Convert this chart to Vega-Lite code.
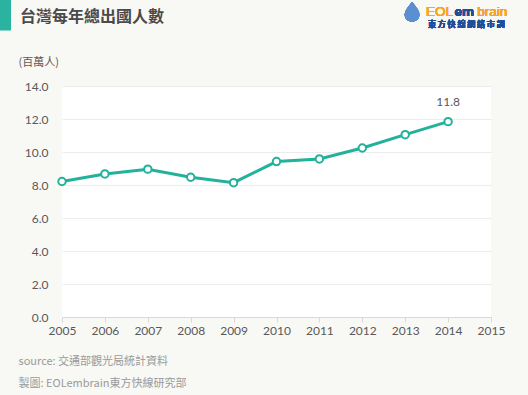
{
  "$schema": "https://vega.github.io/schema/vega-lite/v6.json",
  "width": 429,
  "height": 231,
  "autosize": "none",
  "padding": {"left": 62, "top": 86, "right": 37, "bottom": 78},
  "background": "#f8f8f4",
  "config": {
    "view": {"fill": "#ffffff", "stroke": null},
    "font": "Lato",
    "axis": {"labelFont": "Lato", "titleFont": "Noto Sans CJK TC"}
  },
  "title": {
    "text": "台灣每年總出國人數",
    "anchor": "start",
    "frame": "group",
    "font": "Noto Sans CJK TC",
    "fontSize": 16,
    "fontWeight": "bold",
    "color": "#4a4a4a",
    "dx": -42,
    "offset": 0,
    "dy": 26
  },
  "data": {
    "values": [
      {"year": 2005, "value": 8.21},
      {"year": 2006, "value": 8.67},
      {"year": 2007, "value": 8.96},
      {"year": 2008, "value": 8.47},
      {"year": 2009, "value": 8.14},
      {"year": 2010, "value": 9.42},
      {"year": 2011, "value": 9.58},
      {"year": 2012, "value": 10.24},
      {"year": 2013, "value": 11.05},
      {"year": 2014, "value": 11.84}
    ]
  },
  "encoding": {
    "x": {
      "field": "year",
      "type": "quantitative",
      "scale": {"domain": [2005, 2015], "nice": false, "zero": false},
      "axis": {
        "values": [2005, 2006, 2007, 2008, 2009, 2010, 2011, 2012, 2013, 2014, 2015],
        "format": "d",
        "grid": false,
        "domainColor": "#d9d9d9",
        "tickColor": "#d9d9d9",
        "tickSize": 5,
        "labelColor": "#595959",
        "labelFontSize": 12,
        "labelPadding": 3,
        "labelFlush": false,
        "title": ["source: 交通部觀光局統計資料", "製圖: EOLembrain東方快線研究部"],
        "titleAnchor": "start",
        "titleAlign": "left",
        "titleX": -44,
        "titleY": 38,
        "titleFontSize": 11,
        "titleFontWeight": "normal",
        "titleColor": "#9a9a9a",
        "titleLineHeight": 22,
        "titleBaseline": "top"
      }
    },
    "y": {
      "field": "value",
      "type": "quantitative",
      "scale": {"domain": [0, 14], "nice": false},
      "axis": {
        "values": [0, 2, 4, 6, 8, 10, 12, 14],
        "format": ".1f",
        "domain": false,
        "ticks": false,
        "gridColor": "#ececec",
        "labelColor": "#595959",
        "labelFontSize": 12,
        "labelPadding": 14,
        "title": "(百萬人)",
        "titleAngle": 0,
        "titleAlign": "left",
        "titleBaseline": "middle",
        "titleX": -44,
        "titleY": -24,
        "titleFontSize": 11,
        "titleFontWeight": "normal",
        "titleColor": "#595959"
      }
    }
  },
  "layer": [
    {
      "mark": {"type": "line", "color": "#22b19b", "strokeWidth": 3}
    },
    {
      "mark": {"type": "point", "shape": "circle", "filled": true, "fill": "#ffffff", "stroke": "#22b19b", "strokeWidth": 2, "size": 55, "opacity": 1}
    },
    {
      "transform": [{"filter": "datum.year == 2014"}],
      "mark": {"type": "text", "dy": -20, "fontSize": 12, "color": "#595959", "font": "Lato"},
      "encoding": {"text": {"field": "value", "type": "quantitative", "format": ".1f"}}
    },
    {
      "mark": {"type": "rect", "color": "#2ab39e", "clip": false},
      "encoding": {
        "x": {"datum": 2003.55},
        "x2": {"datum": 2003.81},
        "y": {"datum": 19.25},
        "y2": {"datum": 17.39}
      }
    },
    {
      "mark": {"type": "point", "shape": "M0,-1 C0.45,-0.45 0.75,-0.05 0.75,0.3 C0.75,0.75 0.4,1 0,1 C-0.4,1 -0.75,0.75 -0.75,0.3 C-0.75,-0.05 -0.45,-0.45 0,-1 Z", "filled": true, "color": "#5b8fd0", "opacity": 1, "size": 380, "clip": false},
      "encoding": {
        "x": {"datum": 2013.16},
        "y": {"datum": 18.5}
      }
    },
    {
      "mark": {"type": "text", "align": "left", "baseline": "middle", "fontSize": 13.5, "color": "#f5a623", "font": "Liberation Sans", "clip": false},
      "encoding": {
        "x": {"datum": 2013.485},
        "y": {"datum": 18.49},
        "text": {"value": "EOL"}
      }
    },
    {
      "mark": {"type": "text", "align": "left", "baseline": "middle", "fontSize": 13.5, "fontWeight": "bold", "color": "#1f4e9c", "font": "Liberation Sans", "clip": false},
      "encoding": {
        "x": {"datum": 2014.15},
        "y": {"datum": 18.49},
        "text": {"value": "em"}
      }
    },
    {
      "mark": {"type": "text", "align": "left", "baseline": "middle", "fontSize": 13.5, "color": "#f5a623", "font": "Liberation Sans", "clip": false},
      "encoding": {
        "x": {"datum": 2014.68},
        "y": {"datum": 18.49},
        "text": {"value": "brain"}
      }
    },
    {
      "mark": {"type": "text", "align": "left", "baseline": "middle", "fontSize": 8, "fontWeight": "bold", "color": "#1f4e9c", "font": "Noto Sans CJK TC", "clip": false},
      "encoding": {
        "x": {"datum": 2013.53},
        "y": {"datum": 17.72},
        "text": {"value": "東 方 快 線 網 絡 市 調"}
      }
    }
  ]
}
